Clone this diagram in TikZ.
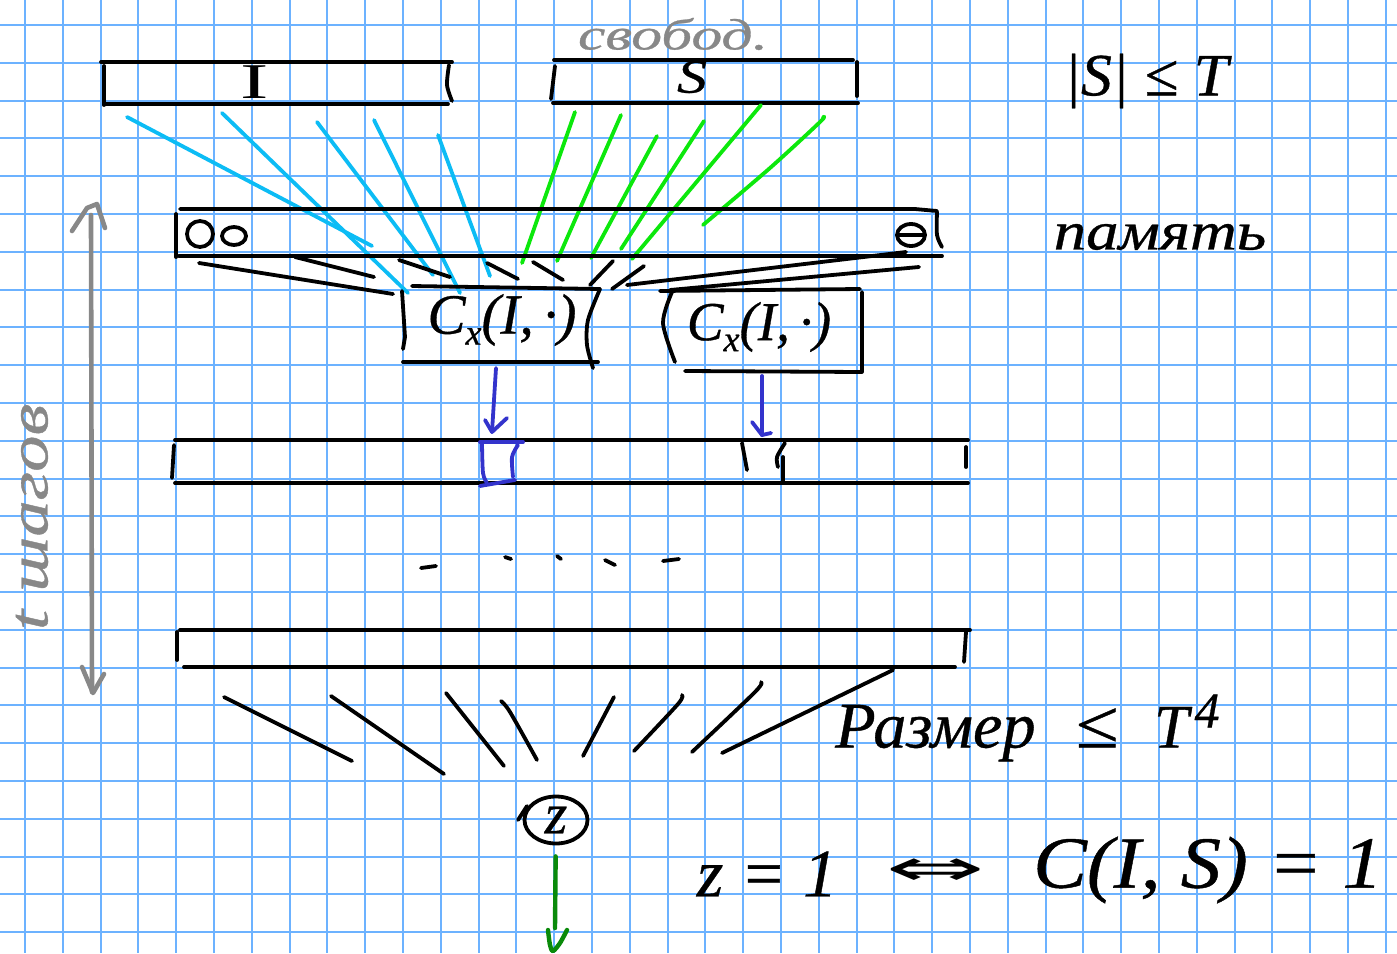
\documentclass[tikz,border=0pt]{standalone}
\usepackage{fontspec}
\setmainfont{Liberation Serif}[ItalicFeatures={FakeBold=0.6}]
\newfontfamily\symf{DejaVu Sans}
\usetikzlibrary{shapes.geometric}
\definecolor{gridblue}{HTML}{6CB2FF}
\definecolor{cyanline}{HTML}{0CBCF5}
\definecolor{greenline}{HTML}{0CE80C}
\definecolor{bluepen}{HTML}{3333CC}
\definecolor{darkgreenpen}{HTML}{0A8A0A}
\definecolor{greypen}{HTML}{888888}
\tikzset{
  pen/.style={line width=3.8pt,line cap=round,line join=round,draw=black},
  cyanpen/.style={pen,draw=cyanline},
  greenpen/.style={pen,draw=greenline},
  bluestroke/.style={pen,draw=bluepen},
  greystroke/.style={pen,draw=greypen,line width=4.6pt},
  darkgreen/.style={pen,draw=darkgreenpen,line width=4.4pt},
  gridline/.style={draw=gridblue,line width=2.1pt},
  handsize/.style={font=\fontsize{#1}{#1}\selectfont\itshape,inner sep=0pt},
}
\begin{document}
\begin{tikzpicture}[x=1pt,y=-1pt]
\useasboundingbox (0,0) rectangle (1397,953);
\fill[white] (0,0) rectangle (1397,953);
% squared paper
\foreach \k in {0,...,36} \draw[gridline] ({25+37.8*\k},0) -- ({25+37.8*\k},953);
\foreach \k in {0,...,24} \draw[gridline] (0,{25+37.8*\k}) -- (1397,{25+37.8*\k});

% box I
\draw[pen] (101,62) -- (452,62);
\draw[pen] (104,66) -- (104,105);
\draw[pen] (104,104) -- (448,104);
\draw[pen] plot[smooth] coordinates {(449,65) (447,85) (452,101)};
\node[handsize=48,font=\fontsize{50}{50}\selectfont\upshape] (labelI) at (255,82) {\scalebox{1.7}[1]{I}};

% box S
\draw[pen] (554,60) -- (853,60);
\draw[pen] (555,66) -- (551,99);
\draw[pen] (553,103) -- (858,103);
\draw[pen] (857,62) -- (857,96);
\node[handsize=48] (labelS) at (692,77) {\scalebox{1.25}[1]{S}};
\node[handsize=44,text=greypen] (free) at (673,34) {\scalebox{1.4}[1]{свобод.}};
\node[handsize=60] (sizeS) at (1146,81) {\scalebox{1.03}[1]{|S| ≤ T}};

% cyan lines
\draw[cyanpen] (127,117) -- (372,246);
\draw[cyanpen] (222,113) -- (408,293);
\draw[cyanpen] (317,122) -- (433,275);
\draw[cyanpen] (374,120) -- (460,293);
\draw[cyanpen] (438,135) -- (490,276);

% green lines
\draw[greenpen] (575,112) -- (522,263);
\draw[greenpen] (621,115) -- (557,261);
\draw[greenpen] (657,136) -- (591,258);
\draw[greenpen] (704,121) -- (621,249);
\draw[greenpen] (761,105) -- (632,259);
\draw[greenpen] plot[smooth] coordinates {(823,117) (820,122) (770,168) (703,225)};

% memory
\draw[pen] (180,209) -- (915,209) -- (937,211);
\draw[pen] (176,214) -- (176,257);
\draw[pen] (179,256) -- (942,256);
\draw[pen] plot[smooth] coordinates {(937,212) (937,235) (942,247)};
\draw[pen] (200,234) circle[radius=13];
\draw[pen] (234,236) ellipse[x radius=12,y radius=9];
\draw[pen] (911,235) ellipse[x radius=14,y radius=11];
\draw[pen] (898,235) -- (924,235);
\node[handsize=54] (memory) at (1160,237) {\scalebox{1.2}[1]{память}};

% black fan to C_x boxes
\draw[pen] (199,263) -- (393,294);
\draw[pen] (295,257) -- (374,277);
\draw[pen] (399,260) -- (450,277);
\draw[pen] (487,263) -- (518,279);
\draw[pen] (533,262) -- (563,280);
\draw[pen] (613,261) -- (590,285);
\draw[pen] (644,266) -- (612,289);
\draw[pen] (906,252) -- (627,285);
\draw[pen] (919,267) -- (670,290);

% left circuit box
\draw[pen] (412,286) -- (600,289);
\draw[pen] (402,291) -- (405,337) -- (403,349);
\draw[pen] (403,362) -- (598,362);
\draw[pen] plot[smooth] coordinates {(600,289) (588,320) (587,345) (593,368)};
\node[handsize=57] (cxleft) at (502,320) {C\raisebox{-11pt}{\fontsize{36}{36}\selectfont x}(I,\,·)};

% right circuit box
\draw[pen] (660,291) -- (860,289);
\draw[pen] plot[smooth] coordinates {(672,292) (663,323) (675,362)};
\draw[pen] (862,292) -- (862,372) -- (685,371);
\node[handsize=55] (cxright) at (759,327) {C\raisebox{-11pt}{\fontsize{36}{36}\selectfont x}(I,\,·)};

% blue arrows
\coordinate (ba) at (496,368);
\coordinate (bb) at (492,432);
\coordinate (bc) at (762,376);
\coordinate (bd) at (762,435);
\draw[bluestroke] (ba) -- (bb);
\draw[bluestroke] (485,420) -- (bb) -- (507,418);
\draw[bluestroke] (bc) -- (bd);
\draw[bluestroke] (752,422) -- (bd) -- (771,433);

% second row
\draw[pen] (175,440) -- (968,440);
\draw[pen] (174,445) -- (172,478);
\draw[pen] (175,483) -- (968,483);
\draw[pen] (966,447) -- (966,467);
\draw[pen] (742,443) -- (747,470);
\draw[pen] plot[smooth] coordinates {(785,443) (777,457) (778,467)};
\draw[pen] (783,457) -- (783,482);
\draw[bluestroke] (480,442) -- (523,442);
\draw[bluestroke] plot[smooth] coordinates {(482,443) (483,473) (487,483)};
\draw[bluestroke] (480,486) -- (515,480);
\draw[bluestroke] plot[smooth] coordinates {(518,445) (512,457) (513,477)};

% dots
\draw[pen] (421,568) -- (436,566);
\draw[pen] (505,557) -- (511,559);
\draw[pen] (557,556) -- (561,559);
\draw[pen] (605,560) -- (615,565);
\draw[pen] (663,561) -- (679,559);

% last row
\draw[pen] (180,630) -- (970,630);
\draw[pen] (177,632) -- (177,660);
\draw[pen] (184,667) -- (955,667);
\draw[pen] (966,632) -- (964,662);

% lower fan
\draw[pen] (224,697) -- (352,761);
\draw[pen] (331,696) -- (444,774);
\draw[pen] (446,693) -- (504,766);
\draw[pen] plot[smooth] coordinates {(501,701) (510,712) (537,760)};
\draw[pen] (614,697) -- (583,756);
\draw[pen] plot[smooth] coordinates {(682,695) (678,704) (634,751)};
\draw[pen] plot[smooth] coordinates {(761,682) (755,692) (692,752)};
\draw[pen] (893,670) -- (722,753);

% output
\node[ellipse,pen,minimum width=63pt,minimum height=47pt,inner sep=0pt,font=\fontsize{58}{58}\selectfont\itshape] (z) at (556,820) {z};
\draw[pen] (518,820) -- (527,806);
\coordinate (gend) at (555,928);
\draw[darkgreen,shorten <=11pt] (z) -- (gend);
\draw[darkgreen] plot[smooth] coordinates {(548,930) (550,945) (553,951) (560,943) (567,930)};

% time axis
\coordinate (gtop) at (91,215);
\coordinate (gbot) at (92,692);
\draw[greystroke] (gtop) -- (gbot);
\draw[greystroke] (72,231) -- (87,208) -- (97,204) -- (105,228);
\draw[greystroke] (82,667) -- (93,693) -- (104,674);
\node[handsize=56,text=greypen,rotate=90] (steps) at (32,517) {\scalebox{1.3}[1]{t шагов}};

% captions
\node[handsize=62,anchor=west] (size) at (835,728) {\scalebox{1.07}[1.05]{Размер}\hspace{40pt}\scalebox{1.25}[1.1]{≤}\hspace{36pt}T\hspace{6pt}\raisebox{20pt}{\fontsize{50}{50}\selectfont 4}};
\node[handsize=68] (zeq) at (767,874) {z = 1};
\node[inner sep=0pt,font=\fontsize{46}{46}\selectfont\symf] (iff) at (936,872) {\scalebox{2.6}[1.1]{⇔}};
\node[handsize=70,anchor=west] (ceq) at (1033,870) {\scalebox{1.15}[1.05]{C(I, S) = 1}};
\end{tikzpicture}
\end{document}
